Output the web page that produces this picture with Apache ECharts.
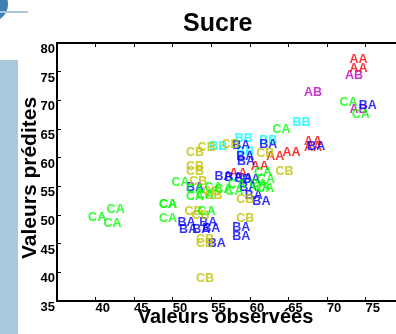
<!DOCTYPE html>
<html><head><meta charset="utf-8">
<script src="https://cdn.jsdelivr.net/npm/echarts@6/dist/echarts.min.js"></script>
<style>html,body{margin:0;padding:0;background:#fff}#c{width:396px;height:334px}</style>
</head><body><div id="c"></div>
<script>
const FONT = "'Liberation Sans', Arial, sans-serif";
const xTicks = [35, 80, 5];
const yTicks = [35, 80, 5];

const caX = [39.1,41.5,41.1,48.3,48.3,48.3,49.9,51.8,51.8,53.1,53.3,54.2,55.5,56.9,57.2,60.4,60.0,60.9,60.6,61.0,63.0,71.7,73.3];
const caY = [49.5,50.9,48.4,51.7,51.7,49.3,55.6,54.4,53.1,53.3,50.5,54.7,54.4,54.0,55.2,54.7,55.2,54.5,57.3,56.1,64.8,69.6,67.5];
const cbX = [51.8,53.3,56.4,51.8,51.8,52.2,53.9,54.2,51.6,52.5,53.1,53.1,53.1,58.3,58.3,60.9,63.4];
const cbY = [60.8,61.7,62.2,58.4,57.5,55.8,54.0,53.3,50.5,49.8,45.6,44.9,38.8,52.6,49.3,60.6,57.5];
const baX = [50.7,53.5,50.9,52.6,53.9,54.6,57.8,57.8,55.5,56.8,58.1,59.1,58.7,59.4,60.4,57.8,61.3,58.3,58.4,67.5,74.2,51.8];
const baY = [48.6,48.6,47.4,47.4,47.5,44.9,47.7,46.1,56.6,56.5,56.3,56.1,54.7,53.3,52.3,62.0,62.2,60.1,59.2,61.9,69.0,54.7];
const bbX = [54.8,58.1,58.3,61.3,65.6];
const bbY = [61.9,63.3,61.0,62.9,66.1];
const aaX = [73.0,73.0,67.1,67.1,64.3,62.2,60.2,57.4];
const aaY = [77.1,75.5,62.7,61.7,60.8,60.1,58.4,57.1];
const abX = [72.4,67.1,73.0];
const abY = [74.3,71.3,68.3];

const groups = [
  {name:'AB', x:abX, y:abY, color:'#bf00bf'},
  {name:'AA', x:aaX, y:aaY, color:'#ff0000'},
  {name:'BB', x:bbX, y:bbY, color:'#00ffff'},
  {name:'BA', x:baX, y:baY, color:'#0000ff'},
  {name:'CB', x:cbX, y:cbY, color:'#bfbf00'},
  {name:'CA', x:caX, y:caY, color:'#00ff00'}
];

const chart = echarts.init(document.getElementById('c'), null, {renderer:'canvas'});
const axisLine = {show:true, onZero:false, lineStyle:{color:'#000', width:2}};
const axisTick = {show:true, inside:true, length:4, lineStyle:{color:'#000', width:1}};
chart.setOption({
  animation:false,
  backgroundColor:'#fff',
  title:{text:'Sucre', left:178, top:7, textStyle:{fontFamily:FONT, fontSize:25, fontWeight:'bold', color:'#000'}},
  graphic:[
    {type:'rect', shape:{x:0, y:60, width:18, height:274}, style:{fill:'#a9c8dc'}, z:-10},
    {type:'circle', shape:{cx:-10, cy:4, r:18}, style:{fill:'#3f7fb5'}, z:-10},
    {type:'rect', shape:{x:0, y:11, width:28, height:2}, style:{fill:'#a9c8dc'}, z:-9}
  ],
  grid:{left:57, top:43, width:347, height:258, containLabel:false, outerBoundsMode:'none'},
  xAxis:[{
    type:'value', min:xTicks[0], max:xTicks[1], interval:xTicks[2], position:'bottom',
    axisLine, axisTick, splitLine:{show:false},
    axisLabel:{showMinLabel:false, align:'left', verticalAlign:'top', margin:1, fontFamily:FONT, fontSize:13, fontWeight:'bold', color:'#000'},
    name:'Valeurs observées', nameLocation:'middle', nameGap:16, nameMoveOverlap:false,
    nameTextStyle:{fontFamily:FONT, fontSize:20, fontWeight:'bold', color:'#000', verticalAlign:'middle', padding:[0,10,0,0]}
  },{
    type:'value', min:xTicks[0], max:xTicks[1], interval:xTicks[2], position:'top',
    axisLine, axisTick, axisLabel:{show:false}, splitLine:{show:false}
  }],
  yAxis:[{
    type:'value', min:yTicks[0], max:yTicks[1], interval:yTicks[2], position:'left',
    axisLine, axisTick, splitLine:{show:false},
    axisLabel:{verticalAlign:'top', margin:2, fontFamily:FONT, fontSize:13, fontWeight:'bold', color:'#000'},
    name:'Valeurs prédites', nameLocation:'middle', nameGap:27, nameRotate:90, nameMoveOverlap:false,
    nameTextStyle:{fontFamily:FONT, fontSize:21, fontWeight:'bold', color:'#000', verticalAlign:'middle', padding:[0,12,0,0]}
  },{
    type:'value', min:yTicks[0], max:yTicks[1], interval:yTicks[2], position:'right',
    axisLine, axisTick, axisLabel:{show:false}, splitLine:{show:false}
  }],
  series: groups.map(g => ({
    type:'scatter', name:g.name, symbolSize:1,
    itemStyle:{color:'rgba(0,0,0,0)'},
    emphasis:{disabled:true},
    data: g.x.map((v,i) => [v, g.y[i]]),
    label:{show:true, formatter:g.name, position:[0,0], align:'left', verticalAlign:'middle',
      fontFamily:FONT, fontSize:12.5, fontWeight:'bold', color:g.color},
    labelLayout:{hideOverlap:false}
  }))
});
</script></body></html>
